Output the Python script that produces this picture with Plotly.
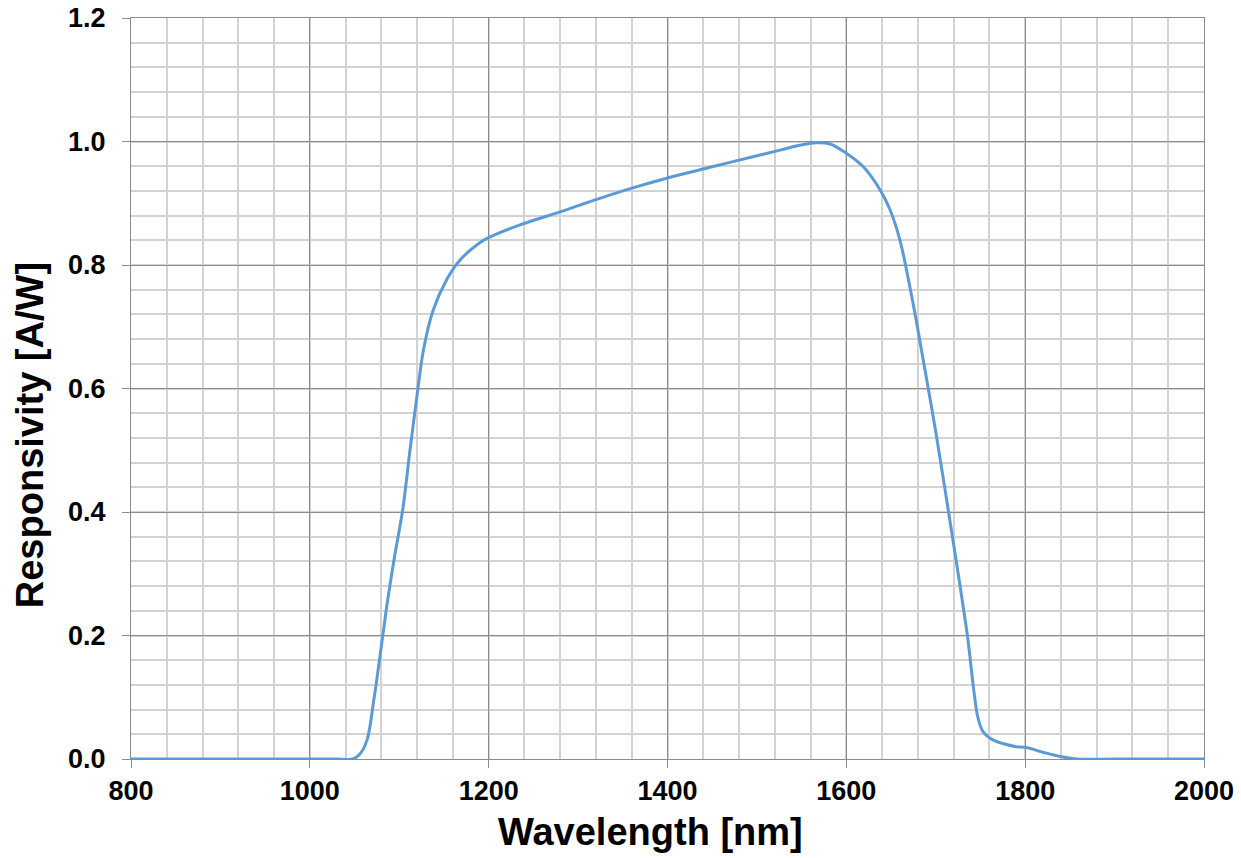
import plotly.graph_objects as go

wavelength = [800, 900, 1000, 1030, 1048, 1056, 1064, 1072, 1082, 1087, 1095, 1104, 1112, 1120, 1127,
              1138, 1153, 1168, 1190, 1201, 1235, 1280, 1302, 1350, 1400, 1450, 1500, 1526, 1545, 1567,
              1582, 1600, 1619, 1638, 1649, 1660, 1675, 1686, 1700, 1718, 1735, 1747, 1753, 1764, 1775,
              1790, 1800, 1820, 1839, 1858, 1900, 2000]
responsivity = [0.0, 0.0, 0.0, 0.0, 0.0, 0.008, 0.031, 0.1, 0.204, 0.257, 0.33, 0.405, 0.5, 0.59, 0.662,
                0.727, 0.776, 0.808, 0.836, 0.845, 0.865, 0.886, 0.897, 0.92, 0.941, 0.959, 0.977, 0.986, 0.993, 0.998,
                0.996, 0.981, 0.959, 0.921, 0.889, 0.84, 0.735, 0.646, 0.53, 0.366, 0.204, 0.068, 0.044, 0.031, 0.025,
                0.02, 0.019, 0.011, 0.004, 0.0, 0.0, 0.0]

x_ticks = [800, 1000, 1200, 1400, 1600, 1800, 2000]
y_ticks = [0.0, 0.2, 0.4, 0.6, 0.8, 1.0, 1.2]
x_title = "Wavelength [nm]"
y_title = "Responsivity [A/W]"

fig = go.Figure()
fig.add_trace(go.Scatter(x=wavelength, y=responsivity, mode="lines",
                         line=dict(color="#5B9BD5", width=3, shape="spline", smoothing=0.9),
                         showlegend=False, hoverinfo="x+y"))

font_family = "Liberation Sans, Arial, sans-serif"
axis_common = dict(
    showgrid=True, gridcolor="#8C8C8C", gridwidth=1,
    showline=True, linecolor="#8C8C8C", linewidth=1, mirror=True,
    ticks="outside", ticklen=8, tickcolor="#8C8C8C", tickwidth=1,
    tickfont=dict(family=font_family, size=27, color="black", weight="bold"),
    zeroline=False, automargin=False, ticklabeloverflow="allow",
)

fig.update_xaxes(range=[800, 2000], tickvals=x_ticks, ticktext=[str(v) for v in x_ticks],
                 ticklabelstandoff=0,
                 minor=dict(dtick=40, showgrid=True, gridcolor="#D3D3D3", gridwidth=1.5, ticks=""),
                 **axis_common)
fig.update_yaxes(range=[0, 1.2], tickvals=y_ticks, ticktext=[f"{v:.1f}" for v in y_ticks],
                 ticklabelstandoff=11,
                 minor=dict(dtick=0.04, showgrid=True, gridcolor="#D3D3D3", gridwidth=1.5, ticks=""),
                 **axis_common)

title_font = dict(family=font_family, size=38, color="black")
fig.add_annotation(text=f"<b>{x_title}</b>", xref="paper", yref="paper", x=0.4846, y=-0.0985,
                   xanchor="center", yanchor="middle", showarrow=False, font=title_font)
fig.add_annotation(text=f"<b>{y_title}</b>", xref="paper", yref="paper", x=-0.0941, y=0.437,
                   xanchor="center", yanchor="middle", showarrow=False, font=title_font, textangle=-90)

fig.update_layout(
    width=1241, height=858,
    margin=dict(l=131, r=37, t=18, b=99),
    plot_bgcolor="white", paper_bgcolor="white",
)

fig.write_html("out.html", config={"displayModeBar": False},
               post_script="document.body.style.margin='0';")
